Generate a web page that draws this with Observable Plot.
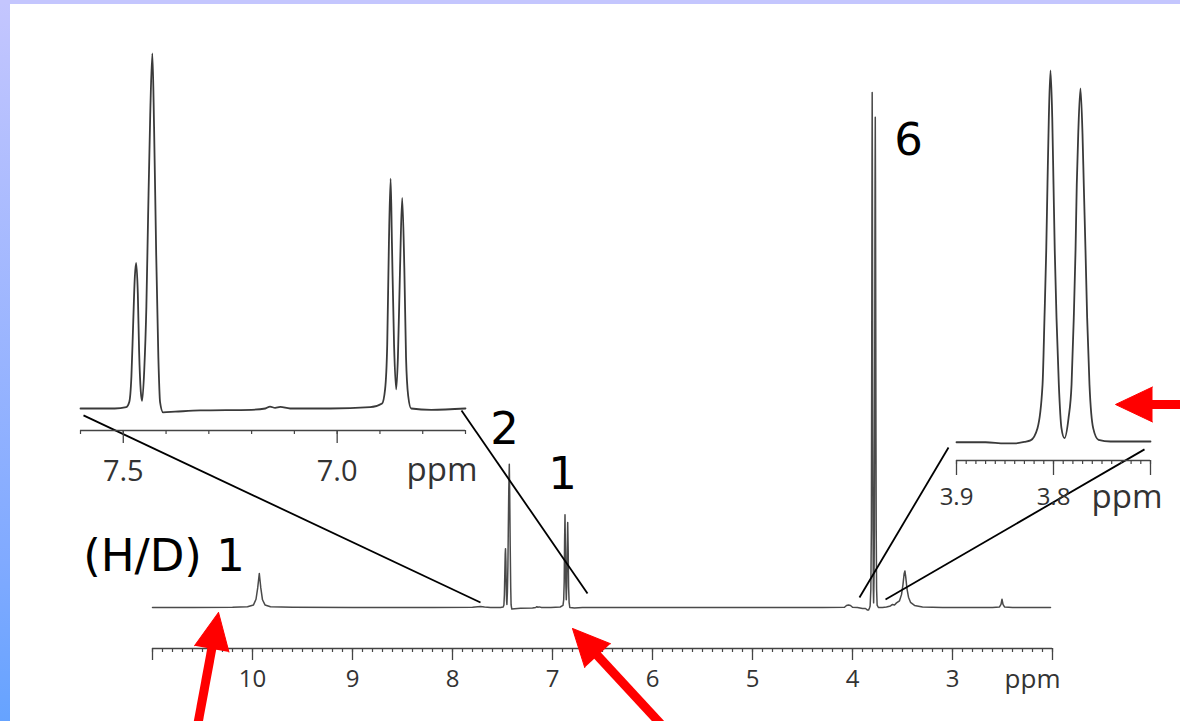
<!DOCTYPE html>
<html>
<head>
<meta charset="utf-8">
<script src="https://cdn.jsdelivr.net/npm/d3@7"></script>
<script src="https://cdn.jsdelivr.net/npm/@observablehq/plot@0.6"></script>
<style>
  html, body { margin: 0; padding: 0; background: #fff; }
  #wrap { position: relative; width: 1180px; height: 721px; overflow: hidden; background: #fff; }
  #wrap svg { position: absolute; left: 0; top: 0; }
  .stripL { position: absolute; left: 0; top: 0; width: 10px; height: 721px;
            background: linear-gradient(#c4c6fe, #80aaff 78%, #66a3ff); }
  .stripT { position: absolute; left: 0; top: 0; width: 1180px; height: 4px; background: #c4c6fe; }
</style>
</head>
<body>
<div id="wrap"><div class="stripL"></div><div class="stripT"></div></div>
<script>
// ---------------- data: [ppm, relative intensity] ----------------
const spectrumHigh = [ // 11.0 -> 7.62 ppm
  [11.0, 0], [10.6, 0], [10.2, 0.05], [10.05, 0.15], [9.99, 0.5], [9.965, 1.6], [9.948, 3.8],
  [9.932, 6.6], [9.917, 3.8], [9.90, 1.5], [9.875, 0.5], [9.82, 0.15], [9.6, 0.05], [9.0, 0],
  [8.2, 0], [7.8, 0.05], [7.72, 0.2], [7.68, 0.1], [7.62, 0]
];
const spectrumAromatic = [ // 7.60 -> 6.70 ppm (left inset)
  [7.60, 0], [7.52, 0], [7.493, 0.1], [7.486, 0.5], [7.481, 2.5], [7.477, 6.5], [7.473, 10.3],
  [7.470, 11.4], [7.466, 9.0], [7.463, 4.5], [7.459, 1.3], [7.456, 0.6], [7.451, 3.0], [7.446, 8.0],
  [7.442, 15.0], [7.437, 23.0], [7.432, 27.8], [7.428, 22.0], [7.423, 12.0], [7.418, 4.0],
  [7.414, 0.5], [7.407, -0.3], [7.379, -0.25], [7.32, -0.15], [7.20, -0.1], [7.168, 0],
  [7.157, 0.15], [7.145, 0.05], [7.133, 0.12], [7.11, 0], [7.016, 0], [6.923, 0.1], [6.895, 0.4],
  [6.888, 1.5], [6.883, 5.0], [6.879, 13.0], [6.875, 18.0], [6.872, 13.0], [6.867, 5.0],
  [6.862, 1.5], [6.858, 4.0], [6.853, 11.0], [6.848, 16.5], [6.843, 11.0], [6.839, 4.0],
  [6.834, 1.0], [6.827, 0], [6.78, -0.1], [6.70, 0]
];
const spectrumMid = [ // 6.6 -> 3.95 ppm
  [6.6, 0], [6.0, 0], [5.0, 0], [4.3, 0], [4.08, 0.05], [4.06, 0.4], [4.04, 0.5], [4.02, 0.4],
  [4.0, 0.05], [3.95, 0]
];
const spectrumOMe = [ // 3.90 -> 3.70 ppm (right inset)
  [3.90, -0.2], [3.87, -0.2], [3.85, -0.5], [3.84, -0.5], [3.83, -0.1], [3.8237, 0.3],
  [3.8165, 3.6], [3.8113, 15.3], [3.8093, 33.3], [3.8075, 51.4], [3.8062, 69.4], [3.8048, 87.4],
  [3.8031, 100], [3.8013, 87.4], [3.80, 69.4], [3.7987, 51.4], [3.7969, 33.3], [3.7945, 15.3],
  [3.7918, 3.6], [3.7887, 0.9], [3.7845, 6.3], [3.7814, 15.3], [3.7791, 33.3], [3.7773, 51.4],
  [3.776, 69.4], [3.7745, 82.9], [3.7722, 95.2], [3.7701, 82.9], [3.7688, 69.4], [3.767, 51.4],
  [3.7653, 33.3], [3.7629, 15.3], [3.7591, 3.6], [3.7536, 0.45], [3.7412, 0], [3.70, 0]
];
const spectrumLow = [ // 3.66 -> 2.02 ppm
  [3.66, 0.1], [3.62, 0.3], [3.60, 0.6], [3.58, 0.5], [3.56, 0.9], [3.53, 1.3], [3.51, 2.5],
  [3.495, 4.5], [3.484, 6.5], [3.476, 7.1], [3.468, 6.0], [3.455, 3.6], [3.44, 2.0], [3.42, 1.0],
  [3.38, 0.4], [3.30, 0.1], [3.1, 0], [2.6, 0], [2.53, 0.1], [2.515, 0.6], [2.505, 1.6],
  [2.495, 0.6], [2.48, 0.1], [2.4, 0], [2.02, 0]
];

// axes
const mainDomain = [11, 2];
const mainMajorTicks = [11, 10, 9, 8, 7, 6, 5, 4, 3, 2];
const mainTickLabels = {10: "10", 9: "9", 8: "8", 7: "7", 6: "6", 5: "5", 4: "4", 3: "3"};
const mainMinorTicks = d3.range(20, 111).map(d => d / 10);

const leftDomain = [7.6, 6.7];
const leftMajorTicks = [7.5, 7.0];
const leftTickLabels = {7.5: "7.5", 7: "7.0"};
const leftMinorTicks = d3.range(67, 77).map(d => d / 10);

const rightDomain = [3.9, 3.7];
const rightMajorTicks = [3.9, 3.8, 3.7];
const rightTickLabels = {3.9: "3.9", 3.8: "3.8"};
const rightMinorTicks = d3.range(370, 391).map(d => d / 100);

const unitLabel = "ppm";

// annotations (in main-spectrum ppm / intensity units)
const peakLabels = [
  {text: "(H/D) 1", ppm: 10.885, intensity: 7.18},
  {text: "2", ppm: 7.48, intensity: 31.8},
  {text: "1", ppm: 6.90, intensity: 23.1},
  {text: "6", ppm: 3.44, intensity: 87.8}
];
const connectors = [
  {x1: 11.69, y1: 37.3, x2: 7.72, y2: 0.97},
  {x1: 7.91, y1: 38.25, x2: 6.65, y2: 2.72},
  {x1: 3.04, y1: 31.07, x2: 3.93, y2: 1.94},
  {x1: 1.08, y1: 30.7, x2: 3.67, y2: 1.55}
];
const arrows = [
  {tip: [10.34, -0.97], tail: [10.614, -29.7]},
  {tip: [6.80, -4.08], tail: [5.58, -29.7]},
  {tip: [1.37, 39.42], tail: [0.52, 39.42]}
];

// ---------------- layout ----------------
const W = 1180, H = 721;
const AX = "#444";
const MAIN = {left: 152, right: 1052, axis: 648, base: 607, peakTop: 92, plotTop: 92};
const LEFT = {left: 80, right: 465, axis: 430, base: 408, peakTop: 53, plotTop: 30};
const RIGHT = {left: 956, right: 1150, axis: 460, base: 441, peakTop: 70, plotTop: 30};

function frameFor(g, data) {
  const peak = d3.max(data, d => d[1]);
  const ppu = (g.base - g.peakTop) / peak;
  return {
    width: W, height: H,
    marginLeft: g.left, marginRight: W - g.right,
    marginTop: g.plotTop, marginBottom: H - g.axis,
    yDomain: [-(g.axis - g.base) / ppu, (g.base - g.plotTop) / ppu]
  };
}
const svgStyle = "background: transparent; font-family: 'Open Sans', 'Liberation Sans', sans-serif; overflow: hidden;";

const spectrum = [...spectrumHigh, ...spectrumAromatic, ...spectrumMid, ...spectrumOMe, ...spectrumLow];
const mf = frameFor(MAIN, spectrum);

// arrow geometry through the same scales as the plot
const xs = d3.scaleLinear(mainDomain, [MAIN.left, MAIN.right]);
const ys = d3.scaleLinear(mf.yDomain, [MAIN.axis, MAIN.plotTop]);
const HEAD = 37;
const arrowData = arrows.map(a => {
  const tx = xs(a.tip[0]), ty = ys(a.tip[1]), sx = xs(a.tail[0]), sy = ys(a.tail[1]);
  const L = Math.hypot(sx - tx, sy - ty), ux = (sx - tx) / L, uy = (sy - ty) / L;
  return {
    ...a,
    baseX: xs.invert(tx + ux * HEAD * 0.85),
    baseY: ys.invert(ty + uy * HEAD * 0.85),
    rotate: Math.atan2(-ux, uy) * 180 / Math.PI
  };
});

const mainPlot = Plot.plot({
  width: mf.width, height: mf.height,
  marginLeft: mf.marginLeft, marginRight: mf.marginRight, marginTop: mf.marginTop, marginBottom: mf.marginBottom,
  x: {domain: mainDomain},
  y: {domain: mf.yDomain, axis: null},
  style: svgStyle,
  marks: [
    Plot.ruleY([mf.yDomain[0]], {x1: mainDomain[0], x2: mainDomain[1], stroke: AX, strokeWidth: 1.5}),
    Plot.axisX({ticks: mainMinorTicks, tickSize: 4, tickFormat: () => "", stroke: AX, strokeWidth: 1.2, label: null}),
    Plot.axisX({ticks: mainMajorTicks, tickSize: 12, tickPadding: 9, tickFormat: d => mainTickLabels[d] ?? "",
      fontSize: 24, color: "#333", stroke: AX, strokeWidth: 1.3, label: null}),
    Plot.text([unitLabel], {text: d => d, frameAnchor: "bottom-right", dx: 8, dy: 39, textAnchor: "end",
      lineAnchor: "bottom", fontSize: 26, fill: "#333"}),
    Plot.line(spectrum, {x: d => d[0], y: d => d[1], stroke: "#4a4a4a", strokeWidth: 1.5}),
    Plot.link(connectors, {x1: "x1", y1: "y1", x2: "x2", y2: "y2", stroke: "#000", strokeWidth: 1.8}),
    Plot.text(peakLabels, {x: "ppm", y: "intensity", text: "text", textAnchor: "middle", lineAnchor: "bottom",
      fontSize: 45, fontFamily: "DejaVu Sans", fill: "#000"}),
    Plot.link(arrowData, {x1: d => d.tail[0], y1: d => d.tail[1], x2: "baseX", y2: "baseY",
      stroke: "red", strokeWidth: 9}),
    Plot.vector(arrowData, {x: d => d.tip[0], y: d => d.tip[1], rotate: "rotate", length: HEAD, r: 17.5,
      shape: "spike", anchor: "end", fill: "red", stroke: "red", strokeWidth: 1})
  ]
});

function insetPlot(g, data, domain, minor, major, labels, opts) {
  const f = frameFor(g, data);
  return Plot.plot({
    width: f.width, height: f.height,
    marginLeft: f.marginLeft, marginRight: f.marginRight, marginTop: f.marginTop, marginBottom: f.marginBottom,
    x: {domain},
    y: {domain: f.yDomain, axis: null},
    style: svgStyle,
    marks: [
      Plot.ruleY([f.yDomain[0]], {x1: domain[0], x2: domain[1], stroke: AX, strokeWidth: 1.5}),
      Plot.axisX({ticks: minor, tickSize: opts.minorSize, tickFormat: () => "", stroke: AX, strokeWidth: 1.2, label: null}),
      Plot.axisX({ticks: major, tickSize: opts.majorSize, tickPadding: opts.pad, tickFormat: d => labels[d] ?? "",
        fontSize: opts.fontSize, color: "#333", stroke: AX, strokeWidth: 1.3, label: null}),
      Plot.text([unitLabel], {text: d => d, frameAnchor: "bottom-right", dx: 12, dy: opts.unitDy, textAnchor: "end",
        lineAnchor: "bottom", fontSize: 33, fill: "#333"}),
      Plot.line(data, {x: d => d[0], y: d => d[1], curve: "monotone-x", stroke: "#3a3a3a", strokeWidth: 1.8})
    ]
  });
}

const leftPlot = insetPlot(LEFT, spectrumAromatic, leftDomain, leftMinorTicks, leftMajorTicks, leftTickLabels,
  {minorSize: 4, majorSize: 13, pad: 17, fontSize: 29, unitDy: 50});
const rightPlot = insetPlot(RIGHT, spectrumOMe, rightDomain, rightMinorTicks, rightMajorTicks, rightTickLabels,
  {minorSize: 4, majorSize: 15, pad: 12, fontSize: 24, unitDy: 47});

const wrap = document.getElementById("wrap");
const firstStrip = wrap.firstChild;
wrap.insertBefore(mainPlot, firstStrip);
wrap.insertBefore(leftPlot, firstStrip);
wrap.insertBefore(rightPlot, firstStrip);
</script>
</body>
</html>
